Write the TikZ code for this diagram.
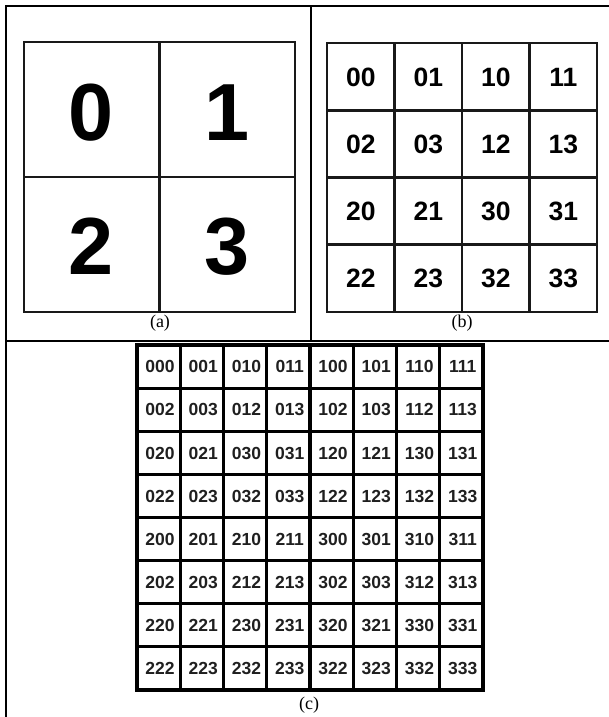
\documentclass[tikz,border=0pt]{standalone}
\usepackage{fontspec}
\setmainfont{Liberation Serif}
\newfontfamily\digitfont{Liberation Sans}
\begin{document}
\begin{tikzpicture}[x=1pt,y=-1pt,
  frameline/.style={line width=2pt,black},
  gridA/.style={line width=2.6pt,black!90},
  gridB/.style={line width=2.6pt,black!90},
  gridC/.style={line width=3.2pt,black},
  bigdigit/.style={font=\digitfont\bfseries\fontsize{81}{81}\selectfont,inner sep=0pt,text height=58pt,text depth=0pt},
  middigit/.style={font=\digitfont\bfseries\fontsize{26.5}{26.5}\selectfont,inner sep=0pt,text height=19pt,text depth=0pt},
  smalldigit/.style={font=\digitfont\bfseries\fontsize{17.5}{17.5}\selectfont,inner sep=0pt,text=black!88,text height=12.5pt,text depth=0pt},
  caption/.style={font=\fontsize{18}{18}\selectfont,inner sep=0pt}]
\useasboundingbox (0,0) rectangle (609,717);
% outer frame
\draw[frameline] (609,6.5) -- (5.5,6.5) -- (5.5,717);
\draw[frameline] (311,6.5) -- (311,341);
\draw[frameline] (5.5,341) -- (609,341);
% (a)
\draw[gridA] (24,42) rectangle (295,312);
\draw[gridA] (159.5,42) -- (159.5,312);
\draw[gridA] (24,177) -- (295,177);
\node[bigdigit] (a0) at (91,111) {0};
\node[bigdigit] (a1) at (227,111) {1};
\node[bigdigit] (a2) at (91,245) {2};
\node[bigdigit] (a3) at (227,245) {3};
\node[caption] (capa) at (160,323) {(a)};
% (b)
\draw[gridB] (327,43) rectangle (597,312);
\foreach \i in {1,2,3} {
  \draw[gridB] (327+67.5*\i,43) -- (327+67.5*\i,312);
  \draw[gridB] (327,43+67.25*\i) -- (597,43+67.25*\i);
}
\foreach \t [count=\k from 0] in {00,01,10,11,02,03,12,13,20,21,30,31,22,23,32,33} {
  \pgfmathtruncatemacro{\rr}{int(\k/4)}
  \pgfmathtruncatemacro{\cc}{mod(\k,4)}
  \node[middigit] (b\t) at (327+33.75+67.5*\cc,43+33.6+67.25*\rr) {\t};
}
\node[caption] (capb) at (462,323) {(b)};
% (c)
\draw[line width=4pt] (137,345) rectangle (483,690);
\foreach \i in {1,...,7} {
  \draw[gridC] (137+43.25*\i,345) -- (137+43.25*\i,690);
  \draw[gridC] (137,345+43.125*\i) -- (483,345+43.125*\i);
}
\foreach \t [count=\k from 0] in {000,001,010,011,100,101,110,111,
  002,003,012,013,102,103,112,113,
  020,021,030,031,120,121,130,131,
  022,023,032,033,122,123,132,133,
  200,201,210,211,300,301,310,311,
  202,203,212,213,302,303,312,313,
  220,221,230,231,320,321,330,331,
  222,223,232,233,322,323,332,333} {
  \pgfmathtruncatemacro{\rr}{int(\k/8)}
  \pgfmathtruncatemacro{\cc}{mod(\k,8)}
  \node[smalldigit] (c\t) at (137+23+43.25*\cc,345+21.6+43.125*\rr) {\t};
}
\node[caption] (capc) at (309,705) {(c)};
\end{tikzpicture}
\end{document}
